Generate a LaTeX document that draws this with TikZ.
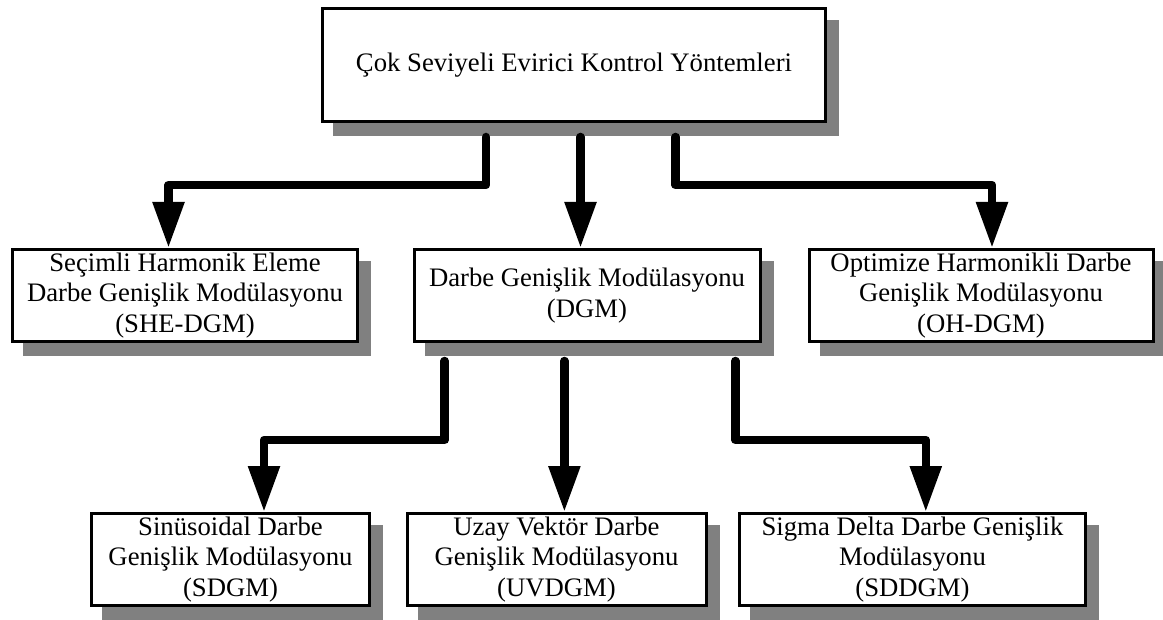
\documentclass[tikz,border=0pt]{standalone}
\usepackage{fontspec}
\setmainfont{Liberation Serif}
\usetikzlibrary{arrows.meta,shadows}
\begin{document}
\begin{tikzpicture}[x=1pt, y=-1pt,
	font=\fontsize{26.7}{30.5}\selectfont,
	box/.style={draw, line width=3pt, fill=white, align=center, inner sep=0pt,
		minimum height=92pt,
		drop shadow={shadow xshift=12pt, shadow yshift=-13pt, fill=gray, draw=gray, line width=3pt, opacity=1}},
	lowtext/.style={execute at begin node={\rule{0pt}{30.4pt}}},
	conn/.style={line width=8.5pt, line cap=round, line join=round,
		-{Triangle[width=30pt, length=46pt]}}]
	\useasboundingbox (0,0) rectangle (1163,620);
	%boxes
	\node[box, minimum width=503pt, minimum height=113pt] (top) at (574,65)
	{Çok Seviyeli Evirici Kontrol Yöntemleri};
	\node[box, lowtext, minimum width=345pt] (she) at (185,295.5)
	{Seçimli Harmonik Eleme\\Darbe Genişlik Modülasyonu\\(SHE-DGM)};
	\node[box, minimum width=346pt] (dgm) at (587,295.5)
	{Darbe Genişlik Modülasyonu\\(DGM)};
	\node[box, lowtext, minimum width=344pt] (oh) at (981,295.5)
	{Optimize Harmonikli Darbe\\Genişlik Modülasyonu\\(OH-DGM)};
	\node[box, minimum width=278pt] (sdgm) at (230.5,559.5)
	{Sinüsoidal Darbe\\Genişlik Modülasyonu\\(SDGM)};
	\node[box, minimum width=299pt] (uvdgm) at (556.5,559.5)
	{Uzay Vektör Darbe\\Genişlik Modülasyonu\\(UVDGM)};
	\node[box, minimum width=346pt] (sddgm) at (912.5,559.5)
	{Sigma Delta Darbe Genişlik\\Modülasyonu\\(SDDGM)};
	%arrows from top
	\draw[conn] ([shift={(-88,14)}]top.south) -- ++(0,48) -| ([xshift=-16.5pt]she.north);
	\draw[conn] ([shift={(6.5,14)}]top.south) -- ([xshift=-6.5pt]dgm.north);
	\draw[conn] ([shift={(101.6,14)}]top.south) -- ++(0,48) -| ([xshift=11pt]oh.north);
	%arrows from DGM
	\draw[conn] ([shift={(-142.3,18)}]dgm.south) -- ++(0,79) -| ([xshift=33.5pt]sdgm.north);
	\draw[conn] ([shift={(-22.6,18)}]dgm.south) -- ([xshift=7.9pt]uvdgm.north);
	\draw[conn] ([shift={(148.4,18)}]dgm.south) -- ++(0,79) -| ([xshift=13.3pt]sddgm.north);
\end{tikzpicture}
\end{document}
